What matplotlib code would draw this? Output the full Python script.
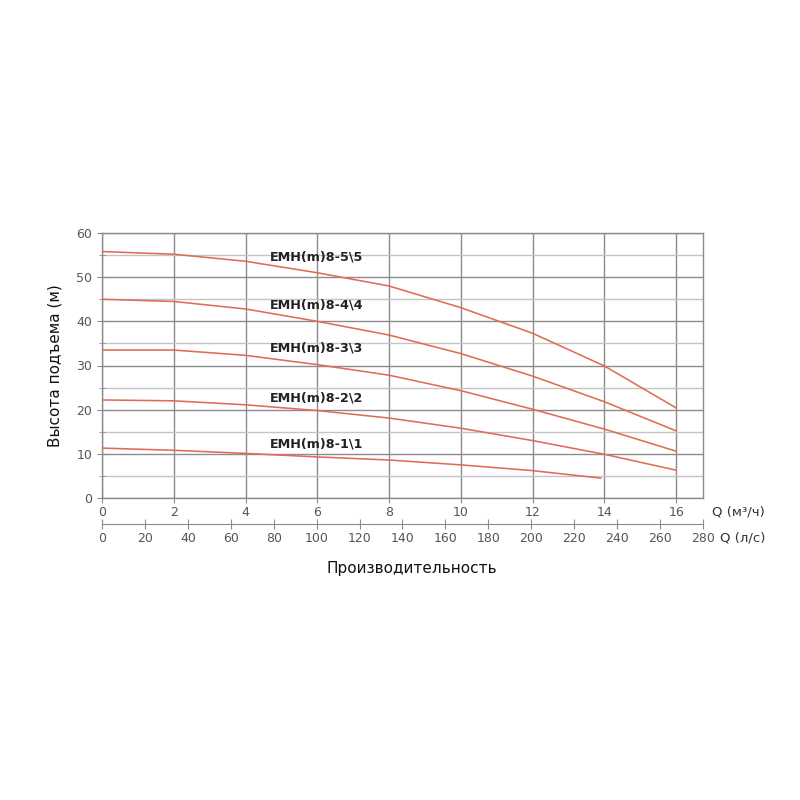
import numpy as np
import matplotlib
matplotlib.use('Agg')
import matplotlib.pyplot as plt
from matplotlib.ticker import MultipleLocator

# flow (m3/h) and head (m)
q = [0, 2, 4, 6, 8, 10, 12, 14, 16]
head_5 = [55.8, 55.2, 53.6, 51.0, 48.0, 43.1, 37.3, 29.9, 20.4]
head_4 = [45.0, 44.5, 42.8, 40.0, 36.9, 32.7, 27.6, 21.8, 15.2]
head_3 = [33.5, 33.5, 32.3, 30.2, 27.8, 24.3, 20.1, 15.6, 10.6]
head_2 = [22.2, 22.0, 21.1, 19.8, 18.1, 15.8, 13.0, 9.9, 6.3]
q_1 = [0, 2, 4, 6, 8, 10, 12, 13.9]
head_1 = [11.3, 10.8, 10.1, 9.3, 8.6, 7.5, 6.2, 4.5]

labels = ['EMH(m)8-5\\5', 'EMH(m)8-4\\4', 'EMH(m)8-3\\3', 'EMH(m)8-2\\2', 'EMH(m)8-1\\1']
label_y = [54.5, 43.7, 33.9, 22.6, 12.2]
label_x = 4.67

x_ticks = [0, 2, 4, 6, 8, 10, 12, 14, 16]
ls_ticks = [0, 20, 40, 60, 80, 100, 120, 140, 160, 180, 200, 220, 240, 260, 280]

curve_color = '#e06c55'
grid_dark = '#8c8c8c'
grid_light = '#c4c4c4'
tick_color = '#555555'
XMAX = 16.75

fig = plt.figure(figsize=(8, 8), dpi=100)
ax = fig.add_axes([0.1275, 0.3775, 0.75125, 0.33125])

for xs, ys in [(q, head_5), (q, head_4), (q, head_3), (q, head_2), (q_1, head_1)]:
    ax.plot(xs, ys, color=curve_color, lw=1.15, zorder=3)

for lab, ly in zip(labels, label_y):
    ax.text(label_x, ly, lab, fontsize=9.2, fontweight='bold', color='#222222',
            va='center', ha='left', zorder=4)

ax.set_xlim(0, XMAX)
ax.set_ylim(0, 60)
ax.set_xticks(x_ticks)
ax.yaxis.set_major_locator(MultipleLocator(10))
ax.yaxis.set_minor_locator(MultipleLocator(5))

ax.grid(which='major', color=grid_dark, lw=1.0)
ax.grid(which='minor', axis='y', color=grid_light, lw=1.0)
ax.set_axisbelow(True)

for sp in ax.spines.values():
    sp.set_color(grid_dark)
    sp.set_linewidth(1.0)

ax.tick_params(axis='both', which='major', direction='inout', length=7,
               color=grid_dark, labelcolor=tick_color, labelsize=9)
ax.tick_params(axis='y', which='minor', direction='inout', length=4, color=grid_dark)
ax.tick_params(axis='x', pad=2)

ax.set_ylabel('Высота подъема (м)', fontsize=11, color='#111111', labelpad=10)

# second flow scale in l/s
sec = ax.secondary_xaxis(-0.098, functions=(lambda x: x * 280 / XMAX,
                                             lambda v: v * XMAX / 280))
sec.set_xticks(ls_ticks)
sec.spines['bottom'].set_color(grid_dark)
sec.tick_params(direction='inout', length=7, color=grid_dark,
                labelcolor=tick_color, labelsize=9, pad=2)

fig.text(0.89, 0.36, 'Q (м³/ч)', fontsize=9.5, color='#333333', va='center')
fig.text(0.9, 0.3275, 'Q (л/с)', fontsize=9.5, color='#333333', va='center')
fig.text(0.515, 0.29, 'Производительность', fontsize=11, color='#111111',
         ha='center', va='center')

fig.savefig('out.png', dpi=100, facecolor='white')
